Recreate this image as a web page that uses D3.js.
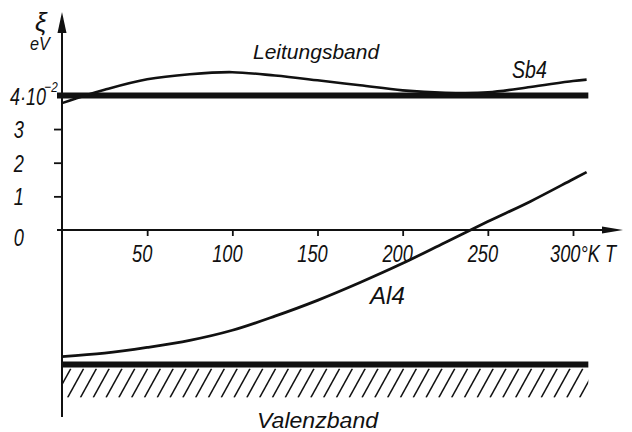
<!DOCTYPE html>
<html>
<head>
<meta charset="utf-8">
<script src="https://cdn.jsdelivr.net/npm/d3@7"></script>
<style>
  html, body { margin: 0; padding: 0; background: #fff; }
  svg text { font-family: "Liberation Sans", "DejaVu Sans", sans-serif; font-style: italic; fill: #111; }
</style>
</head>
<body>
<svg id="chart" width="632" height="432"></svg>
<script>
// Temperature (K) and Fermi level ξ (in 10^-2 eV) for the two doped samples
const sbTemps = [0, 15, 25, 50, 75, 100, 125, 150, 175, 200, 225, 250, 275, 300, 308];
const sb4     = [3.77, 4.02, 4.17, 4.48, 4.63, 4.69, 4.59, 4.45, 4.30, 4.15, 4.08, 4.09, 4.25, 4.43, 4.47];

const alTemps = [0, 25, 50, 75, 100, 125, 150, 175, 200, 225, 250, 275, 300, 308];
const al4     = [-3.76, -3.66, -3.49, -3.28, -2.98, -2.56, -2.09, -1.56, -0.99, -0.37, 0.25, 0.85, 1.51, 1.72];

// Band edges (10^-2 eV) and the temperature range they are drawn over
const conductionEdge = 4;
const valenceEdge = -4;
const bandEndT = 309;

// Axis ticks and their labels
const xTicks = [50, 100, 150, 200, 250, 300];
const xTickLabels = ["50", "100", "150", "200", "250", "300°K T"];
const yTicks = [0, 1, 2, 3, 4];
const yTickLabels = ["0", "1", "2", "3", "4·10"];
const yExponent = "−2";

// Text labels
const curveLabels = ["Sb4", "Al4"];
const bandLabels = ["Leitungsband", "Valenzband"];
const yTitle = ["ξ", "eV"];

const svg = d3.select("#chart");
const ink = "#111";

const x = d3.scaleLinear().domain([0, 300]).range([62, 573]);
const y = d3.scaleLinear().domain([0, 4]).range([230, 95.4]);

function label(parent, str, px, py, size, sx, anchor) {
  return parent.append("text")
    .attr("transform", `translate(${px},${py}) scale(${sx},1)`)
    .attr("text-anchor", anchor || "start")
    .style("font-size", size + "px")
    .text(str);
}

// Hatched valence band
const hatchTop = y(valenceEdge) + 4, hatchBottom = hatchTop + 29;
svg.append("clipPath").attr("id", "hatchClip")
  .append("rect")
  .attr("x", x(0)).attr("y", hatchTop)
  .attr("width", x(bandEndT) - x(0)).attr("height", hatchBottom - hatchTop);
const hatch = svg.append("g").attr("clip-path", "url(#hatchClip)");
hatch.selectAll("line")
  .data(d3.range(x(0) - 20, x(bandEndT) + 5, 12.8))
  .join("line")
  .attr("x1", d => d).attr("y1", hatchBottom)
  .attr("x2", d => d + 16).attr("y2", hatchTop)
  .attr("stroke", ink).attr("stroke-width", 1.5);

// Band edges
svg.append("line")
  .attr("x1", x(0) - 5).attr("x2", x(bandEndT))
  .attr("y1", y(conductionEdge)).attr("y2", y(conductionEdge))
  .attr("stroke", ink).attr("stroke-width", 6);
svg.append("line")
  .attr("x1", x(0)).attr("x2", x(bandEndT))
  .attr("y1", y(valenceEdge)).attr("y2", y(valenceEdge))
  .attr("stroke", ink).attr("stroke-width", 6);

// Axes
svg.append("line").attr("x1", x(0)).attr("x2", x(0)).attr("y1", 417).attr("y2", 28)
  .attr("stroke", ink).attr("stroke-width", 2);
svg.append("path").attr("d", `M${x(0)},12 L${x(0) - 4.5},33 L${x(0) + 4.5},33 Z`).attr("fill", ink);
svg.append("line").attr("x1", x(0) - 5).attr("x2", 606).attr("y1", y(0)).attr("y2", y(0))
  .attr("stroke", ink).attr("stroke-width", 2);
svg.append("path").attr("d", `M623,${y(0)} L602,${y(0) - 3.5} L602,${y(0) + 3.5} Z`).attr("fill", ink);

const xAxis = svg.append("g").attr("transform", `translate(0,${y(0)})`)
  .call(d3.axisBottom(x).tickValues(xTicks).tickSize(6).tickSizeOuter(0).tickFormat(""));
xAxis.select(".domain").remove();
xAxis.selectAll("line").attr("stroke", ink).attr("stroke-width", 1.8);

const yAxis = svg.append("g").attr("transform", `translate(${x(0)},0)`)
  .call(d3.axisLeft(y).tickValues(yTicks.filter(d => d !== 0 && d !== 4)).tickSize(8).tickSizeOuter(0).tickFormat(""));
yAxis.select(".domain").remove();
yAxis.selectAll("line").attr("stroke", ink).attr("stroke-width", 1.8);

// Tick labels
xTicks.forEach((t, i) => {
  if (i === xTicks.length - 1) label(svg, xTickLabels[i], x(t) - 23, 262, 24, 0.76, "start");
  else label(svg, xTickLabels[i], x(t) - 5, 262, 24, 0.76, "middle");
});
yTicks.forEach((t, i) => {
  if (t === 4) {
    const tx = svg.append("text")
      .attr("transform", `translate(10,${y(t) + 10}) scale(0.78,1)`)
      .style("font-size", "23px");
    tx.append("tspan").text(yTickLabels[i]);
    tx.append("tspan").attr("dy", -13).attr("dx", -2).style("font-size", "15px").text(yExponent);
  } else {
    label(svg, yTickLabels[i], 24, y(t) + (t === 0 ? 16 : 9), 24, 0.76, "end");
  }
});

// Fermi level curves
const line = d3.line().curve(d3.curveCatmullRom.alpha(0.5));
svg.append("path")
  .attr("d", line(sbTemps.map((t, i) => [x(t), y(sb4[i])])))
  .attr("fill", "none").attr("stroke", ink).attr("stroke-width", 2.6);
svg.append("path")
  .attr("d", line(alTemps.map((t, i) => [x(t), y(al4[i])])))
  .attr("fill", "none").attr("stroke", ink).attr("stroke-width", 2.8);

// Labels
label(svg, bandLabels[0], 253, 59, 21, 1, "start");
label(svg, bandLabels[1], 257, 428, 22, 1.05, "start");
label(svg, curveLabels[0], 512, 78, 23, 0.85, "start");
label(svg, curveLabels[1], 370, 304, 23, 1.05, "start");
label(svg, yTitle[0], 35, 31, 26, 1, "start");
label(svg, yTitle[1], 30, 50, 18, 0.9, "start");
</script>
</body>
</html>
